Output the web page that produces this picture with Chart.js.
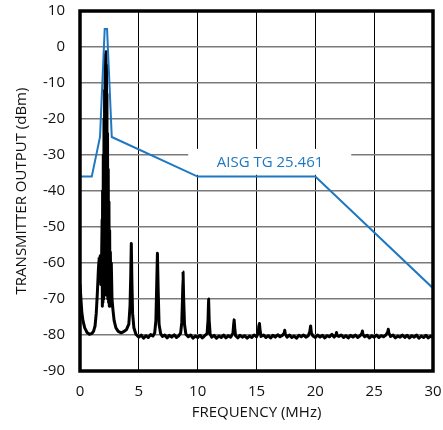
<!DOCTYPE html>
<html>
<head>
<meta charset="utf-8">
<script src="https://cdn.jsdelivr.net/npm/chart.js@4.4.0/dist/chart.umd.min.js"></script>
<style>
  body { margin: 0; background: #fff; }
  #wrap { width: 443px; height: 430px; }
</style>
</head>
<body>
<div id="wrap"><canvas id="myChart" width="443" height="430"></canvas></div>
<script>
'use strict';
// spectrum trace (MHz, dBm)
const spectrumFreq = [
    0.00, 0.08, 0.15, 0.25, 0.40, 0.60, 0.80, 1.00, 1.15, 1.28, 1.38, 1.48, 1.56, 1.62, 1.68, 1.72, 1.78, 1.83, 1.88,
    1.90, 1.92, 1.95, 1.98, 2.01, 2.04, 2.07, 2.09, 2.11, 2.13, 2.15, 2.17, 2.19, 2.21, 2.23, 2.25, 2.27, 2.29, 2.31, 2.34, 2.37,
    2.40, 2.43, 2.46, 2.49, 2.52, 2.55, 2.58, 2.62, 2.66, 2.72, 2.80, 2.90, 3.05, 3.25, 3.50, 3.75, 3.95, 4.15, 4.25,
    4.31, 4.36, 4.41, 4.47, 4.58, 4.75,
    5.0, 5.2, 5.4, 5.6, 5.8, 6.0, 6.2, 6.35, 6.45, 6.52, 6.58, 6.64, 6.72, 6.85, 7.0, 7.2, 7.4, 7.6, 7.8, 8.0, 8.2, 8.4,
    8.55, 8.65, 8.71, 8.76, 8.81, 8.88, 9.0, 9.2, 9.4, 9.6, 9.8, 10.0, 10.2, 10.4, 10.6, 10.8, 10.88, 10.93, 10.98, 11.06,
    11.2, 11.4, 11.6, 11.8, 12.0, 12.2, 12.4, 12.6, 12.8, 13.0, 13.06, 13.1, 13.15, 13.22, 13.4, 13.6, 13.8, 14.0, 14.2,
    14.4, 14.6, 14.8, 15.0, 15.15, 15.2, 15.25, 15.3, 15.38, 15.6, 15.8, 16.0, 16.2, 16.4, 16.6, 16.8, 17.0, 17.2, 17.35,
    17.4, 17.45, 17.6, 17.8, 18.0, 18.2, 18.4, 18.6, 18.8, 19.0, 19.2, 19.4, 19.52, 19.6, 19.66, 19.8, 20.0, 20.2, 20.4,
    20.6, 20.8, 21.0, 21.2, 21.4, 21.6, 21.75, 21.8, 21.85, 22.0, 22.2, 22.4, 22.6, 22.8, 23.0, 23.2, 23.4, 23.6, 23.8,
    23.95, 24.0, 24.05, 24.2, 24.4, 24.6, 24.8, 25.0, 25.2, 25.4, 25.6, 25.8, 26.0, 26.15, 26.2, 26.25, 26.4, 26.6, 26.8,
    27.0, 27.2, 27.4, 27.6, 27.8, 28.0, 28.2, 28.4, 28.6, 28.8, 29.0, 29.2, 29.4, 29.6, 29.8, 30.0
];
const spectrumLevel = [
    -66, -70, -73.5, -76, -78, -79.3, -79.8, -79.6, -79, -77.5, -74, -68, -62, -58.5, -62, -58, -66, -60, -48,
    -72, -40, -71, -30, -70, -20, -69, -12, -68, -5, -66, -2, -64, -1.3, -66, -5, -67, -13, -69, -24, -70,
    -34, -71, -43, -72, -51, -72, -57, -68, -60, -70, -73, -76, -78, -79, -79.4, -79, -78.5, -77, -72,
    -64, -54.6, -65, -74, -78, -79.8,
    -80.6, -80.0, -80.9, -80.2, -80.7, -79.9, -80.3, -79.4, -76, -66, -57.3, -67, -77, -79.6, -80.4, -80.0, -80.8, -80.1, -80.6, -79.9, -80.7, -80.2,
    -79.5, -76.5, -70, -62.5, -70, -77, -79.8, -80.5, -80.0, -80.9, -80.3, -80.7, -80.1, -80.8, -80.2, -79.6, -76, -70, -76, -79.8,
    -80.6, -80.1, -80.9, -80.3, -80.7, -80.0, -80.8, -80.2, -80.6, -79.5, -77, -75.8, -78, -80.2, -80.8, -80.1, -80.6, -80.2, -80.9,
    -80.3, -80.7, -80.0, -80.5, -79.4, -77.5, -76.8, -78.5, -80.4, -80.0, -80.7, -80.2, -80.8, -80.1, -80.6, -79.9, -80.5, -80.1, -79.5,
    -78.7, -79.8, -80.6, -80.0, -80.7, -80.3, -80.9, -80.1, -80.5, -80.0, -80.6, -80.2, -79.2, -77.5, -79.4, -80.3, -80.7, -80.0, -80.6,
    -80.1, -80.8, -80.2, -80.5, -79.8, -80.6, -80.0, -79.3, -80.2, -80.4, -80.0, -80.7, -80.2, -80.8, -80.1, -80.6, -80.0, -80.7, -80.2,
    -79.6, -78.9, -79.9, -80.5, -80.1, -80.8, -80.2, -80.6, -80.0, -80.7, -80.2, -80.5, -80.0, -79.2, -78.4, -79.5, -80.4, -80.0, -80.8,
    -80.3, -80.6, -80.0, -80.7, -80.1, -80.8, -80.2, -80.6, -80.0, -80.9, -80.3, -80.7, -80.1, -80.8, -80.3, -80.6
];
// emission mask
const maskFreq = [0, 1, 1.7, 2.1, 2.3, 2.7, 10, 20, 30];
const maskLevel = [-36, -36, -25, 5, 5, -25, -36, -36, -67];
const maskLabel = 'AISG TG 25.461';
const xTicks = [0, 5, 10, 15, 20, 25, 30];
const yTicks = [10, 0, -10, -20, -30, -40, -50, -60, -70, -80, -90];

const blue = '#1f78c1';
const fontName = '"Open Sans", "Noto Sans", sans-serif';

function toPoints(xs, ys) {
    const pts = [];
    for (let i = 0; i < xs.length; i++) {
        pts.push({ x: xs[i], y: ys[i] });
    }
    return pts;
}

// white box + label over the grid, then the heavy frame
const labelBox = {
    id: 'labelBox',
    beforeDatasetsDraw: function (chart) {
        const ctx = chart.ctx;
        const x = chart.scales.x;
        const y = chart.scales.y;
        const left = x.getPixelForValue(9.2);
        const right = x.getPixelForValue(23.05);
        const top = y.getPixelForValue(-28.3);
        const bottom = y.getPixelForValue(-35.5);
        ctx.save();
        ctx.fillStyle = '#fff';
        ctx.fillRect(left, top, right - left, bottom - top);
        ctx.fillStyle = blue;
        ctx.font = '15px ' + fontName;
        ctx.textAlign = 'center';
        ctx.textBaseline = 'middle';
        ctx.fillText(maskLabel, x.getPixelForValue(16.15), y.getPixelForValue(-32.2));
        ctx.restore();
    },
    afterDatasetsDraw: function (chart) {
        const a = chart.chartArea;
        const ctx = chart.ctx;
        ctx.save();
        ctx.strokeStyle = '#000';
        ctx.lineWidth = 3.5;
        ctx.strokeRect(a.left, a.top, a.right - a.left, a.bottom - a.top);
        ctx.restore();
    }
};

const ctx = document.getElementById('myChart');
new Chart(ctx, {
    type: 'line',
    data: {
        datasets: [
            {
                label: maskLabel,
                data: toPoints(maskFreq, maskLevel),
                borderColor: blue,
                borderWidth: 2,
                pointRadius: 0,
                tension: 0,
                order: 0
            },
            {
                label: 'spectrum',
                data: toPoints(spectrumFreq, spectrumLevel),
                borderColor: '#000',
                borderWidth: 3,
                borderJoinStyle: 'round',
                pointRadius: 0,
                tension: 0.0001,
                order: 1
            }
        ]
    },
    options: {
        responsive: false,
        animation: false,
        layout: { padding: { top: 11, right: 10, left: 0, bottom: 0 } },
        plugins: { legend: { display: false }, tooltip: { enabled: false } },
        scales: {
            x: {
                type: 'linear',
                min: 0,
                max: 30,
                afterFit: function (s) {
                    s.height = 59;
                    s.paddingLeft = 0;
                    s.paddingRight = 0;
                },
                afterBuildTicks: function (s) { s.ticks = xTicks.map(v => ({ value: v })); },
                ticks: { color: '#111', font: { family: fontName, size: 15 }, padding: 12, maxRotation: 0 },
                grid: { color: '#000', lineWidth: 1, drawTicks: false },
                border: { display: false },
                title: { display: true, text: 'FREQUENCY (MHz)', color: '#111', font: { family: fontName, size: 15 }, padding: { top: 0, bottom: 8 } }
            },
            y: {
                type: 'linear',
                min: -90,
                max: 10,
                afterFit: function (s) {
                    s.width = 80;
                    s.paddingTop = 0;
                    s.paddingBottom = 0;
                },
                afterBuildTicks: function (s) { s.ticks = yTicks.map(v => ({ value: v })); },
                ticks: { color: '#111', font: { family: fontName, size: 15 }, padding: 15 },
                grid: { color: '#7a7a7a', lineWidth: 1.5, drawTicks: false },
                border: { display: false },
                title: { display: true, text: 'TRANSMITTER OUTPUT (dBm)', color: '#111', font: { family: fontName, size: 15 }, padding: { top: 13, bottom: 0 } }
            }
        }
    },
    plugins: [labelBox]
});
</script>
</body>
</html>
